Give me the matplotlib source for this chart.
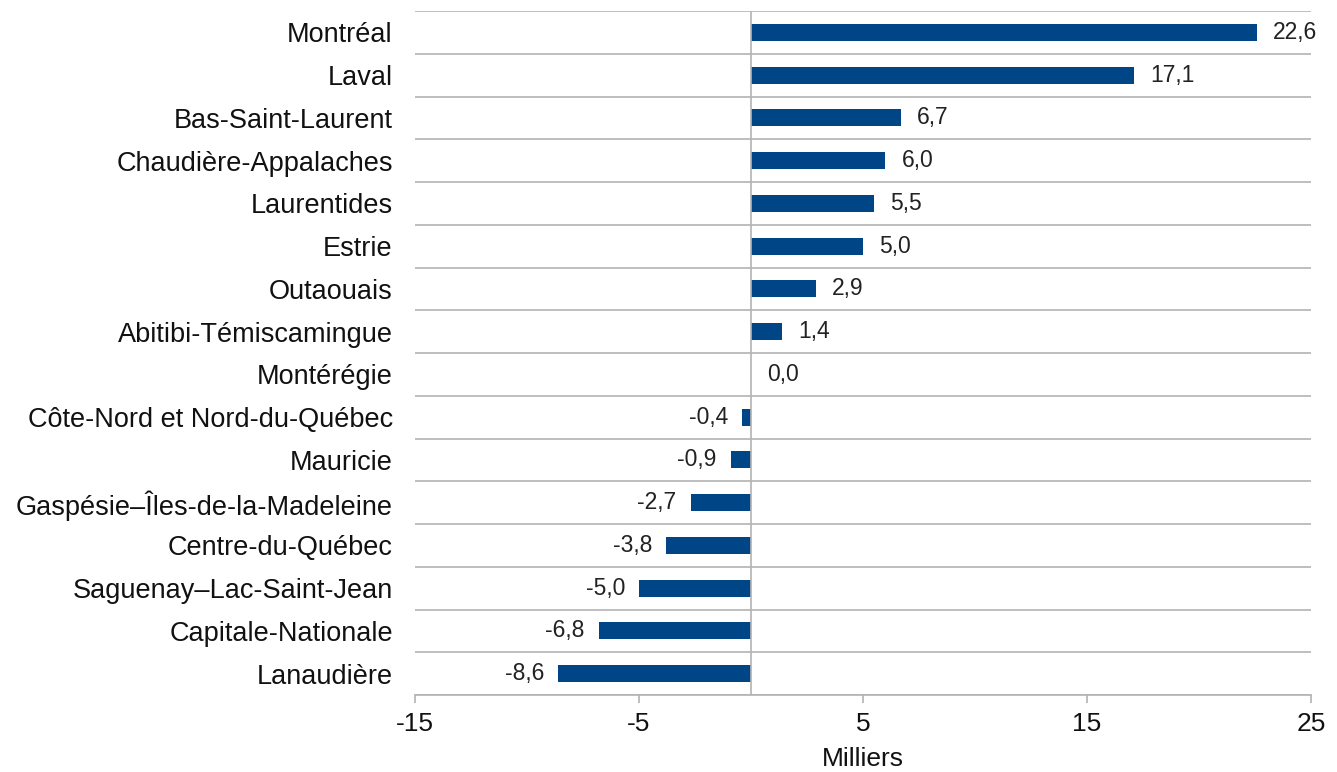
import matplotlib
matplotlib.use("Agg")
import matplotlib.pyplot as plt
from matplotlib.transforms import offset_copy

plt.rcParams['font.family'] = ['Liberation Sans', 'DejaVu Sans']

categories = ["Montréal", "Laval", "Bas-Saint-Laurent", "Chaudière-Appalaches",
              "Laurentides", "Estrie", "Outaouais", "Abitibi-Témiscamingue",
              "Montérégie", "Côte-Nord et Nord-du-Québec", "Mauricie",
              "Gaspésie–Îles-de-la-Madeleine", "Centre-du-Québec",
              "Saguenay–Lac-Saint-Jean", "Capitale-Nationale", "Lanaudière"]
values = [22.6, 17.1, 6.7, 6.0, 5.5, 5.0, 2.9, 1.4, 0.0, -0.4, -0.9, -2.7,
          -3.8, -5.0, -6.8, -8.6]
xticks = [-15, -5, 5, 15, 25]
xlabel = "Milliers"

fig = plt.figure(figsize=(13.37, 7.72), dpi=100)
ax = fig.add_axes([415/1337, 1 - 695/772, (1311-415)/1337, (695-11)/772])

n = len(categories)
ypos = list(range(n))
ax.barh(ypos, values, height=0.4, color="#004586", zorder=3)
ax.set_ylim(n - 0.5, -0.5)
ax.set_xlim(-15, 25)

grid_c = "#b3b3b3"
for b in range(n + 1):
    ax.axhline(b - 0.5, color=grid_c, lw=1.2, zorder=1)
ax.axvline(0, color=grid_c, lw=1.2, zorder=4)

for s in ["left", "right", "top"]:
    ax.spines[s].set_visible(False)
ax.spines["bottom"].set_color(grid_c)
ax.spines["bottom"].set_linewidth(1.2)

ax.set_yticks(ypos)
ax.set_yticklabels(categories, fontsize=19.5, color="#111111")
ax.tick_params(axis="y", length=0, pad=16)
ax.set_xticks(xticks)
ax.set_xticklabels([str(t) for t in xticks], fontsize=19, color="#111111")
ax.tick_params(axis="x", length=6, width=1.2, color=grid_c, direction="out", pad=6)
ax.set_xlabel(xlabel, fontsize=19, labelpad=8, color="#111111")

for y, v in zip(ypos, values):
    lab = f"{v:.1f}".replace(".", ",")
    if v >= 0:
        tr = offset_copy(ax.transData, fig=fig, x=16, y=0, units="dots")
        ax.text(v, y, lab, transform=tr, ha="left", va="center", fontsize=16.5,
                color="#222222", zorder=5)
    else:
        tr = offset_copy(ax.transData, fig=fig, x=-14, y=0, units="dots")
        ax.text(v, y, lab, transform=tr, ha="right", va="center", fontsize=16.5,
                color="#222222", zorder=5)

fig.savefig("out.png", dpi=100)
